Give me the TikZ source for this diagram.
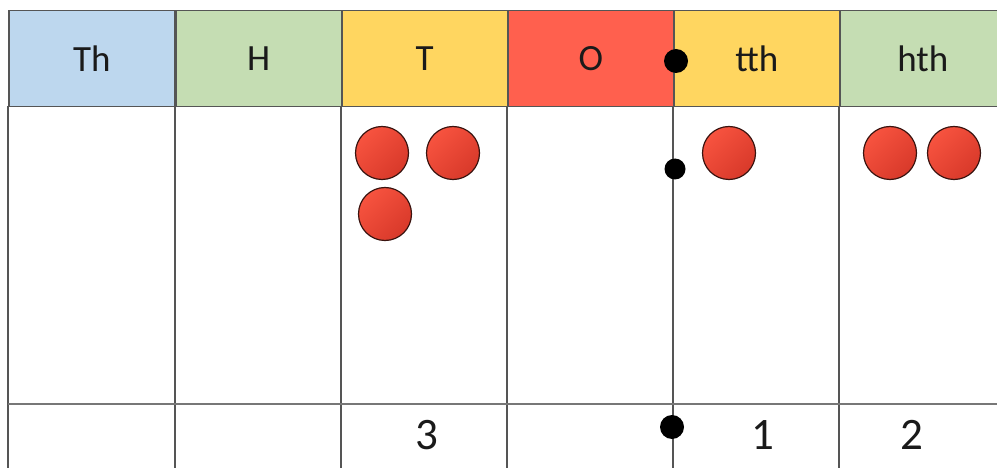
\documentclass[tikz,border=0pt]{standalone}
\usepackage{fontspec}
\setmainfont{Carlito}
\definecolor{blueh}{HTML}{BDD7EE}
\definecolor{greenh}{HTML}{C5DDB3}
\definecolor{yellowh}{HTML}{FFD660}
\definecolor{redh}{HTML}{FF604E}
\definecolor{gridc}{HTML}{555555}
\definecolor{txt}{HTML}{1A1A1A}
\definecolor{cntlight}{HTML}{F7533F}
\definecolor{cntdark}{HTML}{D8392A}
\definecolor{cntedge}{HTML}{3A1410}
\begin{document}
\begin{tikzpicture}[x=1pt,y=-1pt,
  hcell/.style={draw=gridc, line width=1.5pt, minimum width=166pt, minimum height=96pt,
    inner sep=0pt, anchor=north west, font=\fontsize{37}{42}\selectfont, text=txt},
  counter/.style={circle, draw=cntedge, line width=1.2pt, minimum size=53pt, inner sep=0pt,
    top color=cntlight, bottom color=cntdark, shading angle=45},
  bigdot/.style={circle, fill=black, inner sep=0pt},
  num/.style={font=\fontsize{45}{50}\selectfont, text=txt},
  gridline/.style={draw=gridc, line width=1.3pt},
  rowline/.style={draw=gridc!80, line width=2.6pt}]
\useasboundingbox (0,0) rectangle (997,468);
\clip (0,0) rectangle (997,468);
\fill[white] (0,0) rectangle (997,468);
% body grid
\foreach \x in {8,175,341,507,673,839}
  \draw[gridline] (\x,106) -- (\x,470);
\draw[rowline] (8,404) -- (1000,404);
% header
\node[hcell, fill=blueh]   (hTh)  at (8,10)   {Th};
\node[hcell, fill=greenh]  (hH)   at (175,10) {H};
\node[hcell, fill=yellowh] (hT)   at (341,10) {T};
\node[hcell, fill=redh]    (hO)   at (507,10) {O};
\node[hcell, fill=yellowh] (htth) at (673,10) {tth};
\node[hcell, fill=greenh]  (hhth) at (839,10) {hth};
% counters
\node[counter] (c1) at (382,153) {};
\node[counter] (c2) at (453,153) {};
\node[counter] (c3) at (385,214) {};
\node[counter] (c4) at (729,153) {};
\node[counter] (c5) at (890,153) {};
\node[counter] (c6) at (954,153) {};
% dots
\node[bigdot, minimum size=24pt] (d1) at (676,61) {};
\node[bigdot, minimum size=21pt] (d2) at (675,169) {};
\node[bigdot, minimum size=24pt] (d3) at (672,427) {};
% numbers
\node[num] (n3) at (427,435) {3};
\node[num] (n1) at (763,435) {1};
\node[num] (n2) at (912,435) {2};
\end{tikzpicture}
\end{document}
